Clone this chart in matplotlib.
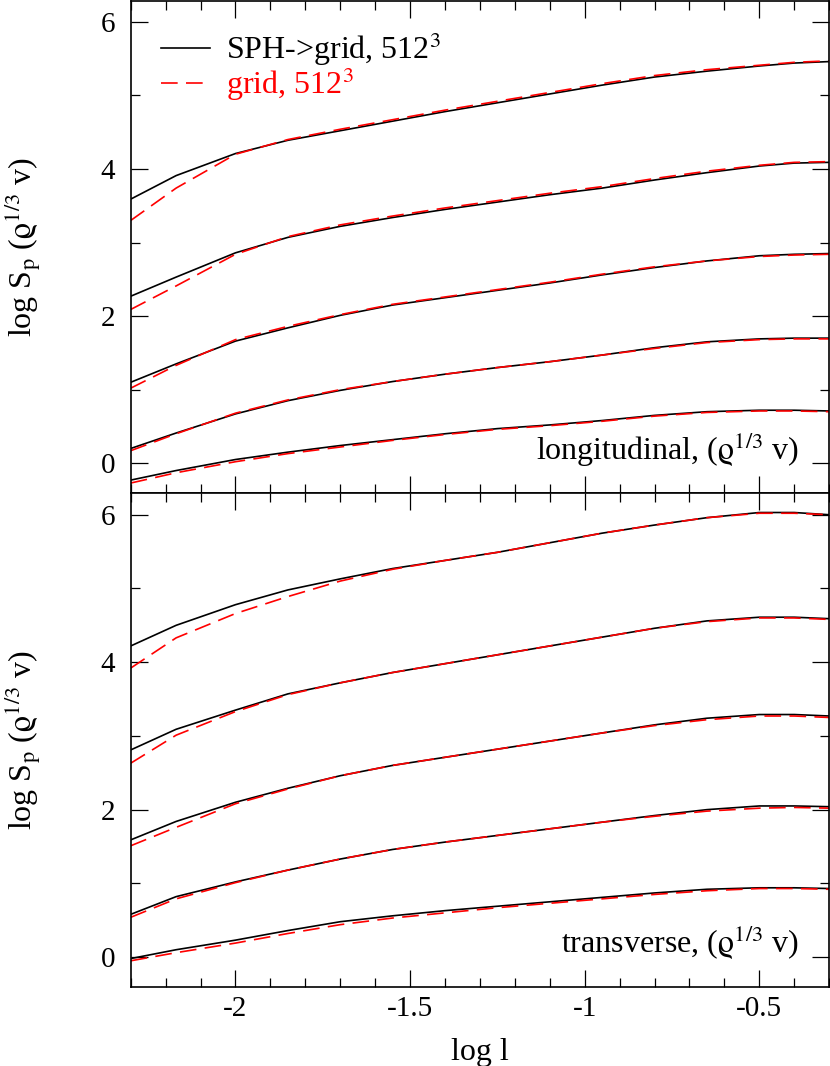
import matplotlib
matplotlib.use("Agg")
import matplotlib.pyplot as plt
from matplotlib.ticker import MultipleLocator, FuncFormatter

plt.rcParams["font.family"] = ["Liberation Serif", "DejaVu Serif"]
plt.rcParams["mathtext.fontset"] = "stix"
plt.rcParams["axes.unicode_minus"] = False

# === data ===
log_l = [-2.3, -2.17, -2.0, -1.85, -1.7, -1.55, -1.4, -1.25, -1.1, -0.95, -0.8, -0.65, -0.5, -0.4, -0.3]

# longitudinal, p = 1..5
long_sph = [
    [-0.23, -0.10, 0.05, 0.15, 0.24, 0.32, 0.40, 0.47, 0.52, 0.58, 0.65, 0.70, 0.72, 0.72, 0.71],
    [0.20, 0.41, 0.67, 0.85, 0.99, 1.11, 1.21, 1.30, 1.38, 1.47, 1.57, 1.65, 1.69, 1.70, 1.70],
    [1.10, 1.35, 1.66, 1.84, 2.01, 2.15, 2.25, 2.35, 2.45, 2.56, 2.66, 2.75, 2.82, 2.84, 2.85],
    [2.27, 2.53, 2.86, 3.07, 3.22, 3.34, 3.45, 3.55, 3.65, 3.74, 3.85, 3.95, 4.04, 4.08, 4.09],
    [3.59, 3.91, 4.21, 4.39, 4.52, 4.65, 4.78, 4.90, 5.02, 5.14, 5.25, 5.33, 5.40, 5.44, 5.46],
]
long_grid = [
    [-0.27, -0.13, 0.02, 0.13, 0.22, 0.31, 0.39, 0.46, 0.51, 0.57, 0.64, 0.69, 0.71, 0.71, 0.70],
    [0.17, 0.40, 0.68, 0.86, 1.00, 1.11, 1.21, 1.30, 1.38, 1.47, 1.56, 1.64, 1.68, 1.69, 1.69],
    [1.02, 1.33, 1.68, 1.86, 2.02, 2.16, 2.26, 2.36, 2.46, 2.57, 2.67, 2.75, 2.81, 2.83, 2.84],
    [2.09, 2.41, 2.84, 3.08, 3.24, 3.36, 3.47, 3.57, 3.67, 3.76, 3.87, 3.97, 4.05, 4.09, 4.10],
    [3.30, 3.74, 4.20, 4.40, 4.54, 4.67, 4.80, 4.92, 5.04, 5.16, 5.27, 5.35, 5.41, 5.45, 5.47],
]

# transverse, p = 1..5
trans_sph = [
    [-0.02, 0.10, 0.23, 0.36, 0.48, 0.56, 0.63, 0.69, 0.75, 0.81, 0.87, 0.92, 0.94, 0.94, 0.93],
    [0.58, 0.82, 1.02, 1.18, 1.33, 1.46, 1.56, 1.65, 1.74, 1.83, 1.92, 2.00, 2.05, 2.05, 2.04],
    [1.59, 1.84, 2.10, 2.29, 2.46, 2.60, 2.71, 2.82, 2.93, 3.04, 3.15, 3.24, 3.29, 3.29, 3.27],
    [2.81, 3.09, 3.35, 3.57, 3.72, 3.86, 3.98, 4.10, 4.22, 4.34, 4.46, 4.56, 4.61, 4.61, 4.59],
    [4.22, 4.50, 4.78, 4.98, 5.13, 5.27, 5.38, 5.49, 5.62, 5.75, 5.86, 5.96, 6.03, 6.03, 6.00],
]
trans_grid = [
    [-0.05, 0.06, 0.19, 0.32, 0.44, 0.53, 0.60, 0.67, 0.73, 0.79, 0.85, 0.90, 0.93, 0.93, 0.92],
    [0.54, 0.79, 1.01, 1.18, 1.33, 1.46, 1.56, 1.65, 1.74, 1.83, 1.91, 1.98, 2.02, 2.03, 2.02],
    [1.51, 1.76, 2.08, 2.28, 2.46, 2.60, 2.71, 2.82, 2.93, 3.04, 3.14, 3.22, 3.27, 3.27, 3.25],
    [2.63, 3.01, 3.33, 3.56, 3.72, 3.86, 3.98, 4.10, 4.22, 4.34, 4.46, 4.55, 4.60, 4.60, 4.58],
    [3.92, 4.33, 4.66, 4.89, 5.10, 5.26, 5.38, 5.49, 5.62, 5.75, 5.86, 5.96, 6.02, 6.02, 6.00],
]

panel_labels = [r"longitudinal, ($\mathrm{\varrho}^{1/3}$ v)", r"transverse, ($\mathrm{\varrho}^{1/3}$ v)"]
series_labels = [r"SPH->grid, 512$^3$", r"grid, 512$^3$"]
ylabel = r"log S$_{\mathrm{p}}$ ($\mathrm{\varrho}^{1/3}$ v)"
xlabel = "log l"

TICK_FS = 21
LABEL_FS = 23

fig = plt.figure(figsize=(8.3, 10.66), dpi=100)
ax_top = fig.add_axes([0.1575, 0.5372, 0.8415, 0.4623])
ax_bot = fig.add_axes([0.1575, 0.0738, 0.8415, 0.4634])

fmt = FuncFormatter(lambda v, pos: "%g" % round(v, 2))

for ax, sph, grd, lab in [(ax_top, long_sph, long_grid, panel_labels[0]),
                          (ax_bot, trans_sph, trans_grid, panel_labels[1])]:
    for i in range(len(sph)):
        ax.plot(log_l, sph[i], color="black", lw=1.2,
                label=series_labels[0] if i == 0 else None)
        ax.plot(log_l, grd[i], color="#ff0000", lw=1.2, dashes=(10, 5),
                label=series_labels[1] if i == 0 else None)
    ax.set_xlim(-2.3, -0.3)
    ax.set_ylim(-0.41, 6.29)
    ax.xaxis.set_major_locator(MultipleLocator(0.5))
    ax.xaxis.set_minor_locator(MultipleLocator(0.1))
    ax.yaxis.set_major_locator(MultipleLocator(2))
    ax.yaxis.set_minor_locator(MultipleLocator(1))
    ax.xaxis.set_major_formatter(fmt)
    ax.yaxis.set_major_formatter(fmt)
    ax.tick_params(which="both", direction="in", top=True, right=True,
                   width=0.9, labelsize=TICK_FS)
    ax.tick_params(which="major", length=12.5)
    ax.tick_params(which="minor", length=6.5)
    ax.tick_params(axis="y", pad=11)
    ax.tick_params(axis="x", pad=6)
    for s in ax.spines.values():
        s.set_linewidth(1.2)
    ax.set_ylabel(ylabel, fontsize=LABEL_FS)
    ax.yaxis.set_label_coords(-0.126, 0.5)
    ax.text(-0.385, 0.04 if ax is ax_top else 0.05, lab, fontsize=LABEL_FS,
            ha="right", va="baseline")

ax_top.tick_params(axis="x", labelbottom=False)
ax_bot.set_xlabel(xlabel, fontsize=LABEL_FS, labelpad=12)

leg = ax_top.legend(loc="upper left", bbox_to_anchor=(0.043, 0.94), frameon=False,
                    fontsize=LABEL_FS, handlelength=1.55, handletextpad=0.5,
                    labelspacing=-0.08, borderpad=0, borderaxespad=0)
for txt, col in zip(leg.get_texts(), ["black", "#ff0000"]):
    txt.set_color(col)

fig.savefig("out.png", dpi=100)
